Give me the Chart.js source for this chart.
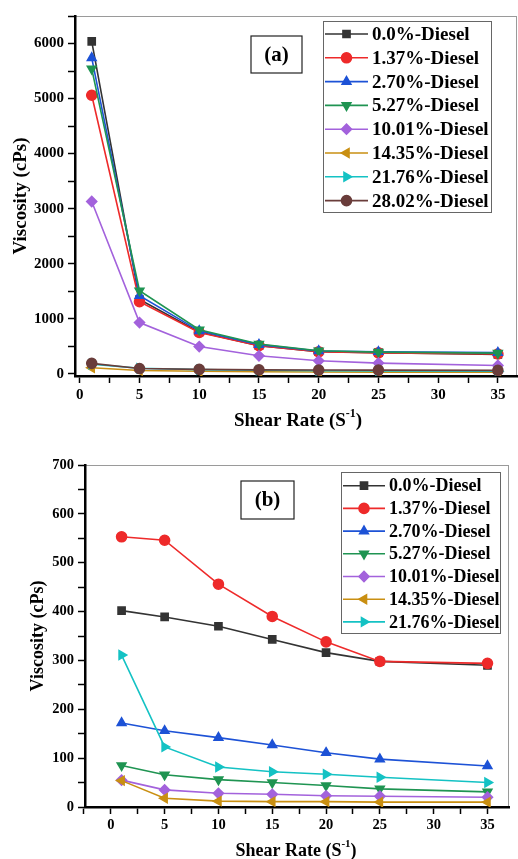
<!DOCTYPE html>
<html>
<head>
<meta charset="utf-8">
<script src="https://cdn.jsdelivr.net/npm/chart.js@4.4.1/dist/chart.umd.min.js"></script>
<style>
  html, body { margin: 0; padding: 0; background: #fff; }
  body { width: 518px; height: 859px; position: relative; overflow: hidden; }
  canvas { position: absolute; left: 0; }
  #chart-a { top: 0; }
  #chart-b { top: 430px; }
</style>
</head>
<body>
<canvas id="chart-a" width="518" height="430"></canvas>
<canvas id="chart-b" width="518" height="429"></canvas>
<script>
// shear rate values (x) shared by both panels
const shearRate = [1, 5, 10, 15, 20, 25, 35];
const xTickLabels = [0, 5, 10, 15, 20, 25, 30, 35];

const seriesNames = ['0.0%-Diesel', '1.37%-Diesel', '2.70%-Diesel', '5.27%-Diesel',
  '10.01%-Diesel', '14.35%-Diesel', '21.76%-Diesel', '28.02%-Diesel'];

// panel (a) viscosity, cPs
const a_d00 = [6040, 1350, 760, 510, 400, 385, 350];
const a_d137 = [5060, 1310, 750, 510, 400, 380, 360];
const a_d270 = [5740, 1420, 780, 530, 415, 400, 385];
const a_d527 = [5540, 1510, 800, 540, 418, 394, 376];
const a_d1001 = [3130, 930, 495, 327, 236, 194, 151];
const a_d1435 = [110, 60, 45, 38, 32, 30, 27];
const a_d2176 = [175, 100, 75, 65, 55, 50, 45];
const a_d2802 = [190, 95, 80, 72, 68, 66, 62];
const yTickLabelsA = [0, 1000, 2000, 3000, 4000, 5000, 6000];

// panel (b) viscosity, cPs
const b_d00 = [402, 389, 370, 343, 316, 298, 290];
const b_d137 = [553, 546, 456, 390, 338, 298, 294];
const b_d270 = [172, 156, 142, 127, 111, 98, 84];
const b_d527 = [85, 66, 56, 50, 44, 37, 31];
const b_d1001 = [55, 35, 28, 26, 23, 22, 20];
const b_d1435 = [54, 18, 12, 11, 11, 10, 10];
const b_d2176 = [311, 123, 82, 72, 67, 61, 50];
const yTickLabelsB = [0, 100, 200, 300, 400, 500, 600, 700];

// marker look per series
const styles = [
  { color: '#333333', point: 'rect', rot: 0 },
  { color: '#ee2a2a', point: 'circle', rot: 0 },
  { color: '#1d52d6', point: 'triangle', rot: 0 },
  { color: '#1f9452', point: 'triangle', rot: 180 },
  { color: '#a362dc', point: 'rectRot', rot: 0 },
  { color: '#c98f12', point: 'triangle', rot: -90 },
  { color: '#14c2c4', point: 'triangle', rot: 90 },
  { color: '#6a3d3b', point: 'circle', rot: 0 }
];

const FONT = "'Liberation Serif', 'Times New Roman', serif";

function makeDatasets(list, radius) {
  return list.map((vals, i) => ({
    label: seriesNames[i],
    data: shearRate.map((x, j) => ({ x: x, y: vals[j] })),
    borderColor: styles[i].color,
    backgroundColor: styles[i].color,
    pointBackgroundColor: styles[i].color,
    pointBorderColor: styles[i].color,
    pointStyle: styles[i].point,
    pointRotation: styles[i].rot,
    pointRadius: radius,
    borderWidth: 1.6,
    tension: 0,
    order: -i
  }));
}

// minor ticks halfway between labelled ones
function withMinor(labels, from, to) {
  const step = (labels[1] - labels[0]) / 2;
  const out = [];
  for (let v = from; v <= to + 1e-9; v += step) out.push({ value: Math.round(v * 100) / 100 });
  return out;
}

const decor = {
  id: 'decor',
  beforeDraw(chart, args, o) {
    const { ctx, chartArea: ca } = chart;
    ctx.save();
    ctx.strokeStyle = '#9a9a9a';
    ctx.lineWidth = 1;
    ctx.strokeRect(ca.left + 0.5, ca.top + 0.5, ca.right - ca.left - 1, ca.bottom - ca.top);
    ctx.restore();
  },
  afterDraw(chart, args, o) {
    const { ctx, chartArea: ca } = chart;
    ctx.save();
    ctx.fillStyle = '#000';
    ctx.textBaseline = 'middle';

    // y title
    ctx.save();
    ctx.translate(o.yTitleX, (ca.top + ca.bottom) / 2);
    ctx.rotate(-Math.PI / 2);
    ctx.textAlign = 'center';
    ctx.font = 'bold ' + o.titleSize + 'px ' + FONT;
    ctx.fillText('Viscosity (cPs)', 0, 0);
    ctx.restore();

    // x title with superscript
    ctx.font = 'bold ' + o.titleSize + 'px ' + FONT;
    const p1 = 'Shear Rate (S', p3 = ')';
    const supFont = 'bold ' + Math.round(o.titleSize * 0.62) + 'px ' + FONT;
    const w1 = ctx.measureText(p1).width;
    const w3 = ctx.measureText(p3).width;
    ctx.font = supFont;
    const w2 = ctx.measureText('-1').width;
    let x = o.xTitleX - (w1 + w2 + w3) / 2;
    ctx.textAlign = 'left';
    ctx.font = 'bold ' + o.titleSize + 'px ' + FONT;
    ctx.fillText(p1, x, o.xTitleY);
    ctx.font = supFont;
    ctx.fillText('-1', x + w1, o.xTitleY - o.titleSize * 0.36);
    ctx.font = 'bold ' + o.titleSize + 'px ' + FONT;
    ctx.fillText(p3, x + w1 + w2, o.xTitleY);

    // panel label box
    const lb = o.labelBox;
    ctx.strokeStyle = '#222';
    ctx.lineWidth = 1.2;
    ctx.strokeRect(lb.x, lb.y, lb.w, lb.h);
    ctx.textAlign = 'center';
    ctx.font = 'bold ' + lb.size + 'px ' + FONT;
    ctx.fillText(lb.text, lb.x + lb.w / 2, lb.y + lb.h / 2 + 1);

    // legend
    const lg = o.legend;
    ctx.strokeStyle = '#666';
    ctx.lineWidth = 1;
    ctx.strokeRect(lg.x + 0.5, lg.y + 0.5, lg.w, lg.h);
    ctx.font = 'bold ' + lg.size + 'px ' + FONT;
    ctx.textAlign = 'left';
    chart.data.datasets.forEach((ds, i) => {
      const cy = lg.firstRow + i * lg.rowH;
      const x0 = lg.x + 2, x1 = x0 + lg.lineLen;
      ctx.strokeStyle = ds.borderColor;
      ctx.lineWidth = 1.6;
      ctx.beginPath();
      ctx.moveTo(x0, cy);
      ctx.lineTo(x1, cy);
      ctx.stroke();
      ctx.fillStyle = ds.borderColor;
      Chart.helpers.drawPoint(ctx, {
        pointStyle: ds.pointStyle, rotation: ds.pointRotation,
        radius: lg.marker, borderWidth: 1
      }, (x0 + x1) / 2, cy);
      ctx.fillStyle = '#000';
      ctx.fillText(ds.label, x1 + 4, cy + 1);
    });
    ctx.restore();
  }
};

function axes(cfg) {
  const tickFont = { family: FONT, size: cfg.tickSize, weight: 'bold' };
  const common = {
    type: 'linear',
    grid: { display: true, drawOnChartArea: false, drawTicks: true, tickLength: 7, tickColor: '#000', tickWidth: 1.5 },
    border: { display: true, color: '#000', width: 2.5 }
  };
  return {
    x: Object.assign({}, common, {
      min: cfg.xMin, max: cfg.xMax,
      ticks: {
        font: tickFont, color: '#000', padding: 3, autoSkip: false, maxRotation: 0,
        callback: v => (xTickLabels.includes(v) ? String(v) : '')
      },
      afterBuildTicks: s => { s.ticks = withMinor(xTickLabels, cfg.xMinorFrom, 35); },
      afterFit: s => { s.height = cfg.xHeight; }
    }),
    y: Object.assign({}, common, {
      min: cfg.yMin, max: cfg.yMax,
      ticks: {
        font: tickFont, color: '#000', padding: 4, autoSkip: false,
        callback: v => (cfg.yLabels.includes(v) ? String(v) : '')
      },
      afterBuildTicks: s => { s.ticks = withMinor(cfg.yLabels, 0, cfg.yMax); },
      afterFit: s => { s.width = cfg.yWidth; }
    })
  };
}

new Chart(document.getElementById('chart-a'), {
  type: 'line',
  data: {
    datasets: makeDatasets([a_d00, a_d137, a_d270, a_d527, a_d1001, a_d1435, a_d2176, a_d2802], 5)
  },
  options: {
    responsive: false,
    animation: false,
    layout: { autoPadding: false, padding: { top: 16, right: 1, left: 0, bottom: 0 } },
    scales: axes({ xMin: -0.4, xMax: 36.6, xMinorFrom: 0, yMin: -40, yMax: 6500,
      yLabels: yTickLabelsA, tickSize: 15, xHeight: 54, yWidth: 75 }),
    plugins: {
      legend: { display: false },
      tooltip: { enabled: false },
      decor: {
        yTitleX: 21, xTitleX: 298, xTitleY: 421, titleSize: 19,
        labelBox: { x: 251, y: 36, w: 51, h: 37, text: '(a)', size: 21 },
        legend: { x: 323, y: 21, w: 168, h: 191, firstRow: 34, rowH: 23.8, lineLen: 43, size: 19, marker: 5 }
      }
    }
  },
  plugins: [decor]
});

new Chart(document.getElementById('chart-b'), {
  type: 'line',
  data: {
    datasets: makeDatasets([b_d00, b_d137, b_d270, b_d527, b_d1001, b_d1435, b_d2176], 5)
  },
  options: {
    responsive: false,
    animation: false,
    layout: { autoPadding: false, padding: { top: 35, right: 9, left: 0, bottom: 0 } },
    scales: axes({ xMin: -2.4, xMax: 37, xMinorFrom: -2.5, yMin: 0, yMax: 700,
      yLabels: yTickLabelsB, tickSize: 14.5, xHeight: 52, yWidth: 85 }),
    plugins: {
      legend: { display: false },
      tooltip: { enabled: false },
      decor: {
        yTitleX: 38, xTitleX: 296, xTitleY: 421, titleSize: 18,
        labelBox: { x: 241, y: 51, w: 53, h: 38, text: '(b)', size: 21 },
        legend: { x: 341, y: 42, w: 159, h: 161, firstRow: 55.7, rowH: 22.7, lineLen: 42, size: 18, marker: 5 }
      }
    }
  },
  plugins: [decor]
});
</script>
</body>
</html>
